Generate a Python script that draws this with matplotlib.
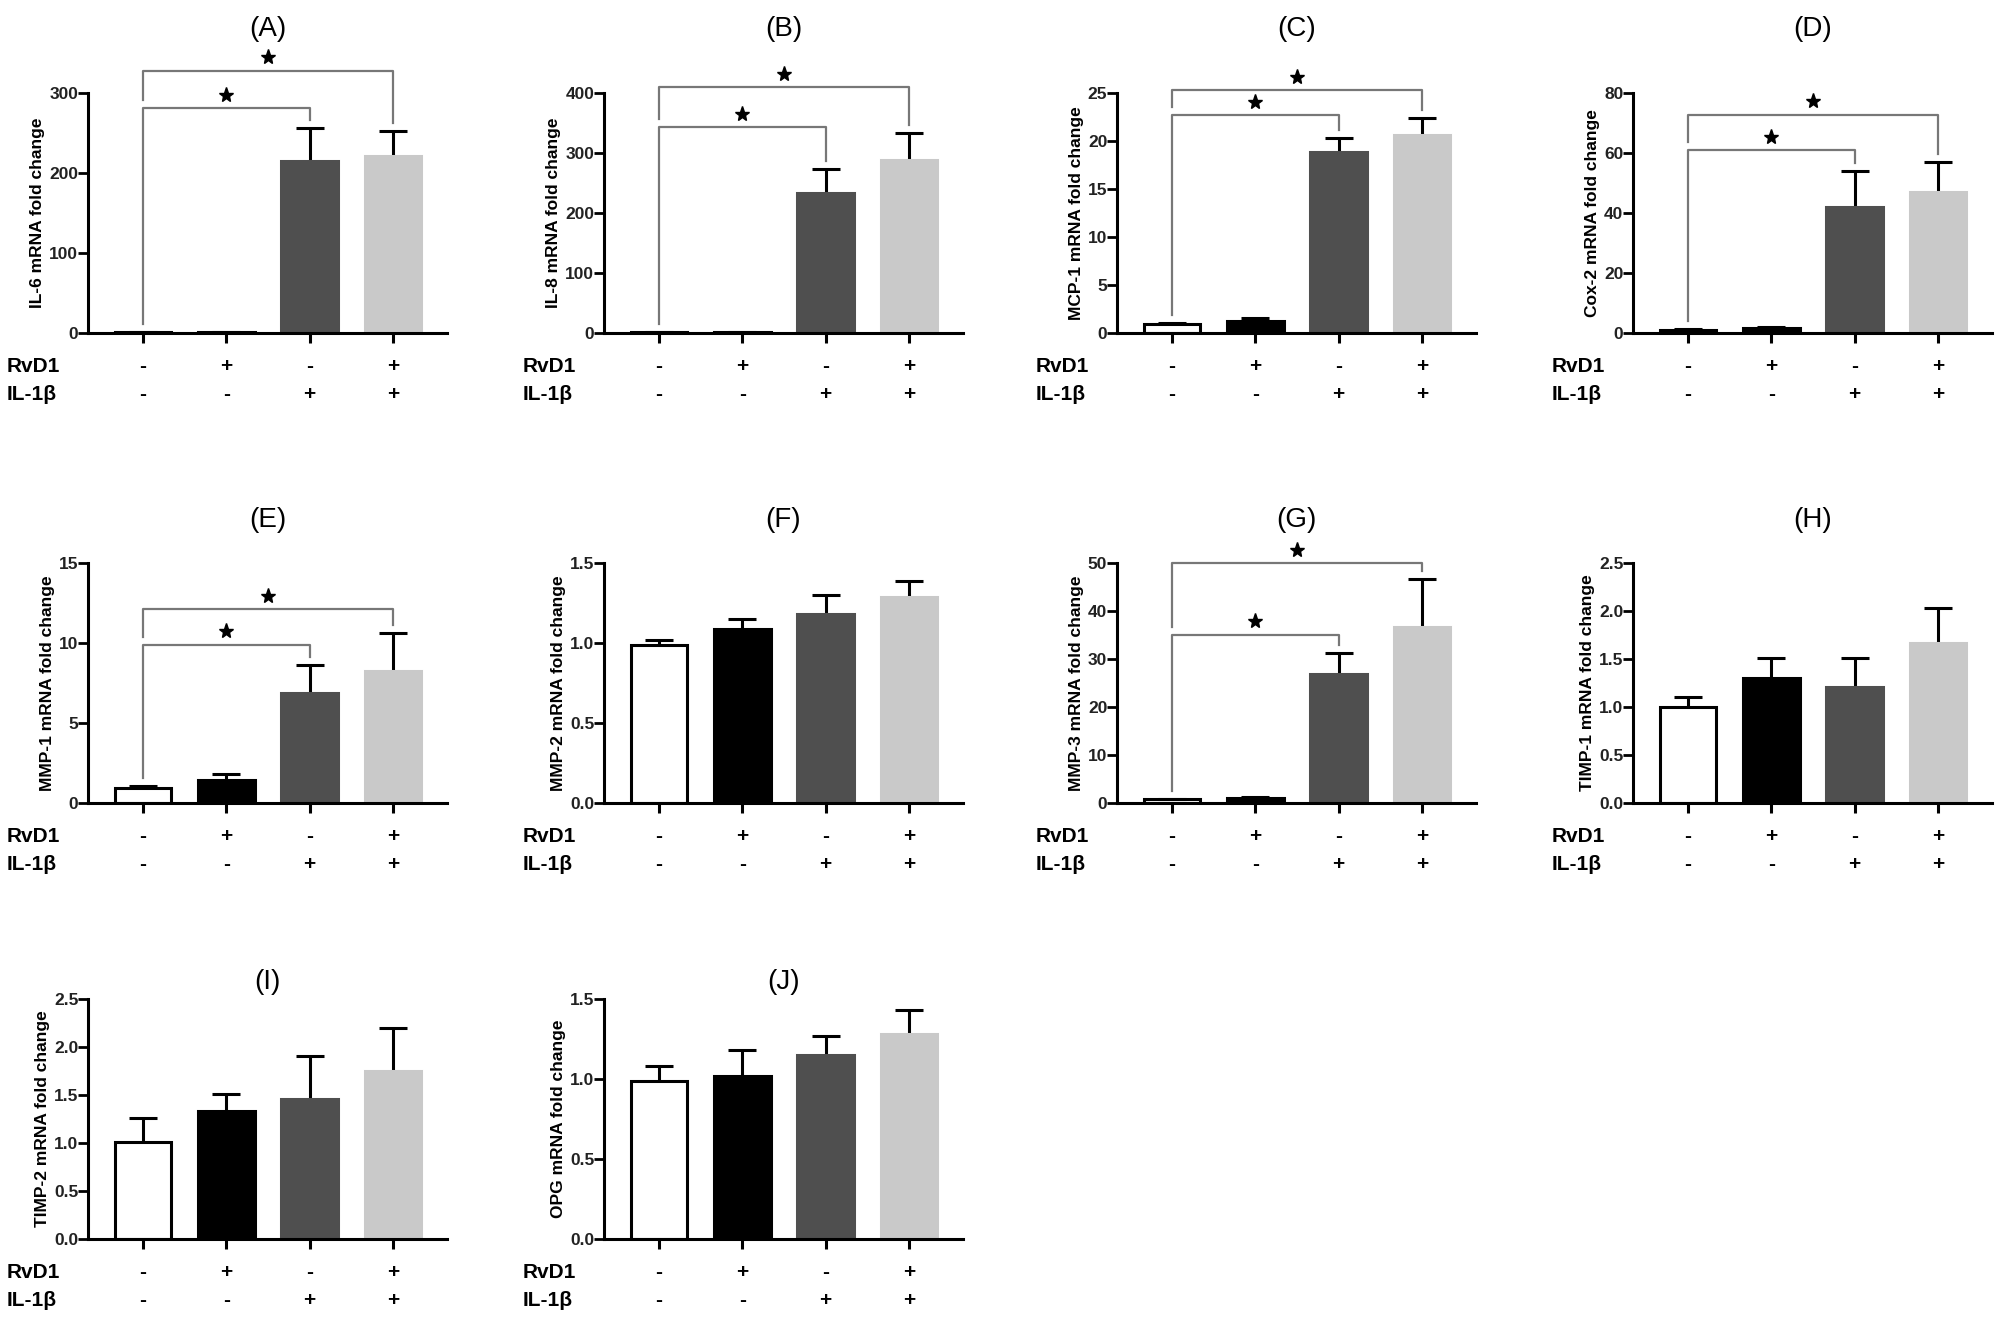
import matplotlib
matplotlib.use('Agg')
import matplotlib.pyplot as plt
import matplotlib.transforms as mtransforms

plt.rcParams['font.family'] = ['Liberation Sans', 'DejaVu Sans']

# groups: control, RvD1, IL-1b, RvD1 + IL-1b
groups = [1, 2, 3, 4]
rvd1_signs = ['-', '+', '-', '+']
il1b_signs = ['-', '-', '+', '+']
bar_colors = ['white', 'black', '#4f4f4f', '#c9c9c9']
edge_colors = ['black', 'black', '#4f4f4f', '#c9c9c9']

titles = ['(A)', '(B)', '(C)', '(D)', '(E)', '(F)', '(G)', '(H)', '(I)', '(J)']
ylabels = ['IL-6 mRNA fold change', 'IL-8 mRNA fold change',
           'MCP-1 mRNA fold change', 'Cox-2 mRNA fold change',
           'MMP-1 mRNA fold change', 'MMP-2 mRNA fold change',
           'MMP-3 mRNA fold change', 'TIMP-1 mRNA fold change',
           'TIMP-2 mRNA fold change', 'OPG mRNA fold change']

il6_mean = [1.0, 1.5, 215, 221]
il6_err = [0.1, 0.3, 41, 31]
il8_mean = [1.0, 1.5, 234, 288]
il8_err = [0.1, 0.3, 40, 45]
mcp1_mean = [0.95, 1.3, 18.9, 20.6]
mcp1_err = [0.1, 0.25, 1.4, 1.8]
cox2_mean = [1.0, 1.5, 42, 47]
cox2_err = [0.2, 0.4, 12, 10]
mmp1_mean = [0.95, 1.43, 6.9, 8.25]
mmp1_err = [0.12, 0.4, 1.75, 2.4]
mmp2_mean = [0.99, 1.09, 1.18, 1.29]
mmp2_err = [0.03, 0.06, 0.12, 0.10]
mmp3_mean = [0.8, 1.0, 26.8, 36.6]
mmp3_err = [0.1, 0.2, 4.4, 10.0]
timp1_mean = [1.0, 1.3, 1.21, 1.67]
timp1_err = [0.1, 0.21, 0.3, 0.36]
timp2_mean = [1.01, 1.33, 1.46, 1.75]
timp2_err = [0.25, 0.18, 0.45, 0.45]
opg_mean = [0.99, 1.02, 1.15, 1.28]
opg_err = [0.09, 0.16, 0.12, 0.15]

means = [il6_mean, il8_mean, mcp1_mean, cox2_mean, mmp1_mean,
         mmp2_mean, mmp3_mean, timp1_mean, timp2_mean, opg_mean]
errs = [il6_err, il8_err, mcp1_err, cox2_err, mmp1_err,
        mmp2_err, mmp3_err, timp1_err, timp2_err, opg_err]

ymax = [300, 400, 25, 80, 15, 1.5, 50, 2.5, 2.5, 1.5]
ystep = [100, 100, 5, 20, 5, 0.5, 10, 0.5, 0.5, 0.5]
yfmt = ['%d', '%d', '%d', '%d', '%d', '%.1f', '%d', '%.1f', '%.1f', '%.1f']

# significance brackets (inner: ctrl vs IL-1b, outer: ctrl vs RvD1+IL-1b)
sig_inner = {0: 281, 1: 343, 2: 22.7, 3: 61, 4: 9.9, 6: 35.1}
sig_outer = {0: 328, 1: 410, 2: 25.3, 3: 72.7, 4: 12.1, 6: 50}

W, H = 2000, 1320
fig = plt.figure(figsize=(W / 100, H / 100), dpi=100)

col_x = [88, 604, 1117, 1633]
row_top = [93, 563, 999]
ax_w, ax_h = 359, 240
title_y = [29, 520, 982]

for i in range(10):
    r, c = divmod(i, 4)
    x0 = col_x[c]
    y0 = row_top[r]
    ax = fig.add_axes([x0 / W, 1 - (y0 + ax_h) / H, ax_w / W, ax_h / H])
    m = means[i]
    e = errs[i]

    ax.bar(groups, m, width=0.68, color=bar_colors, edgecolor=edge_colors,
           linewidth=2.2, zorder=2)
    tops = [a + b for a, b in zip(m, e)]
    ax.vlines(groups, m, tops, color='black', lw=2.2, zorder=1)
    ax.plot(groups, tops, ls='none', marker='_', ms=20, mew=2.2,
            color='black', zorder=3)

    ax.set_xlim(0.34, 4.65)
    ax.set_ylim(0, ymax[i])
    ticks = [k * ystep[i] for k in range(int(round(ymax[i] / ystep[i])) + 1)]
    ax.set_yticks(ticks)
    ax.set_yticklabels([yfmt[i] % t for t in ticks])
    ax.set_xticks(groups)
    ax.set_xticklabels([])
    for s in ['top', 'right']:
        ax.spines[s].set_visible(False)
    for s in ['left', 'bottom']:
        ax.spines[s].set_linewidth(2.2)
    ax.tick_params(axis='y', length=7, width=2, labelsize=12.5, pad=0)
    ax.tick_params(axis='x', length=7, width=2.2)
    for lab in ax.get_yticklabels():
        lab.set_fontweight('bold')
        lab.set_color('#222222')
    ax.set_ylabel(ylabels[i], fontsize=12.5, fontweight='bold', labelpad=3)

    trans = mtransforms.blended_transform_factory(ax.transData, ax.transAxes)
    for g, s1, s2 in zip(groups, rvd1_signs, il1b_signs):
        ax.text(g, -0.14, s1, transform=trans, ha='center', va='center',
                fontsize=15, fontweight='bold')
        ax.text(g, -0.255, s2, transform=trans, ha='center', va='center',
                fontsize=15, fontweight='bold')
    ax.text(-0.226, -0.14, 'RvD1', transform=ax.transAxes, ha='left',
            va='center', fontsize=15, fontweight='bold')
    ax.text(-0.226, -0.255, 'IL-1β', transform=ax.transAxes, ha='left',
            va='center', fontsize=15, fontweight='bold')

    if i in sig_inner:
        gap = 0.033 * ymax[i]
        star = 0.056 * ymax[i]
        yi = sig_inner[i]
        yo = sig_outer[i]
        ax.plot([1, 1, 3, 3], [tops[0] + gap, yi, yi, tops[2] + gap],
                color='#777777', lw=1.6, clip_on=False, zorder=4)
        ax.plot(2, yi + star, marker='*', ms=11, color='black',
                clip_on=False, zorder=4)
        ax.plot([1, 1, 4, 4], [yi + gap, yo, yo, tops[3] + gap],
                color='#777777', lw=1.6, clip_on=False, zorder=4)
        ax.plot(2.5, yo + star, marker='*', ms=11, color='black',
                clip_on=False, zorder=4)

    fig.text((x0 + ax_w / 2) / W, 1 - title_y[r] / H, titles[i],
             ha='center', va='center', fontsize=20)

fig.savefig('out.png', dpi=100, facecolor='white')
